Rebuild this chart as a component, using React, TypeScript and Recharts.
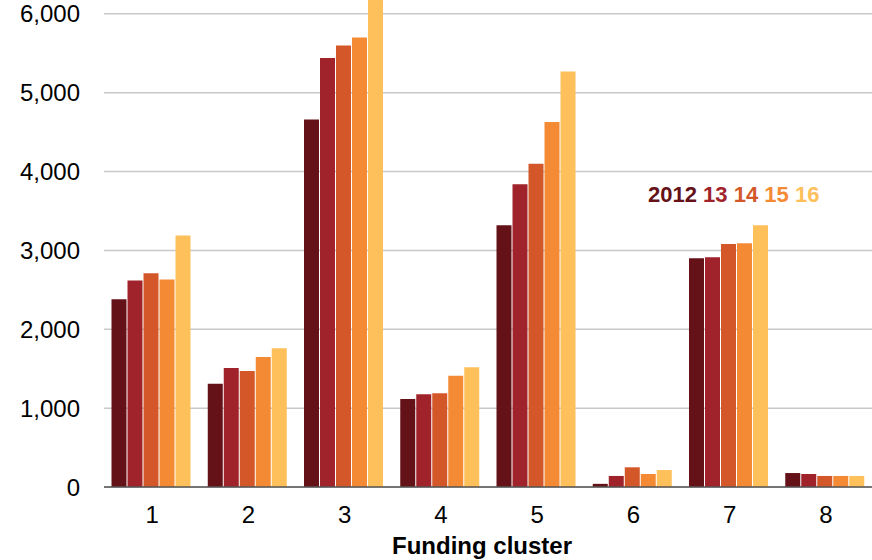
import React from "react";
import { BarChart, Bar, XAxis, YAxis, CartesianGrid } from "recharts";

const clusters = ["1", "2", "3", "4", "5", "6", "7", "8"];
const y2012 = [2380, 1310, 4660, 1115, 3320, 40, 2900, 177];
const y2013 = [2620, 1510, 5440, 1175, 3840, 140, 2915, 165];
const y2014 = [2710, 1470, 5600, 1190, 4100, 250, 3080, 140];
const y2015 = [2630, 1650, 5700, 1410, 4630, 165, 3090, 140];
const y2016 = [3190, 1760, 6300, 1520, 5270, 215, 3320, 140];
const yTicks = [0, 1000, 2000, 3000, 4000, 5000, 6000];

const seriesKeys = ["y2012", "y2013", "y2014", "y2015", "y2016"];
const seriesColors = ["#641118", "#A0222A", "#D4572A", "#F58A35", "#FDC05A"];
const legendLabels = ["2012", "13", "14", "15", "16"];

const data = clusters.map((c, i) => ({
  cluster: c,
  y2012: y2012[i],
  y2013: y2013[i],
  y2014: y2014[i],
  y2015: y2015[i],
  y2016: y2016[i],
}));

const FONT = "'Liberation Sans', Arial, sans-serif";

export default function App() {
  return (
    <div
      style={{
        position: "absolute",
        left: 0,
        top: 0,
        width: 872,
        height: 560,
        overflow: "hidden",
        background: "#fff",
        fontFamily: FONT,
      }}
    >
      <div style={{ position: "absolute", left: 0, top: -100 }}>
        <BarChart
          width={880}
          height={660}
          data={data}
          margin={{ top: 35, right: 6, left: 0, bottom: 0 }}
          barCategoryGap="7.8%"
          barGap={1}
        >
          <CartesianGrid
            horizontal={true}
            vertical={false}
            stroke="#c8c8c8"
            strokeWidth={1.5}
          />
          <XAxis
            dataKey="cluster"
            height={73}
            tickLine={false}
            tickSize={0}
            tickMargin={19}
            axisLine={{ stroke: "#555", strokeWidth: 1.5 }}
            tick={{ fontSize: 24, fill: "#000", fontFamily: FONT }}
            label={{
              value: "Funding cluster",
              position: "insideBottom",
              offset: 6,
              dx: -7,
              style: { fontSize: 24, fontWeight: "bold", fill: "#000", fontFamily: FONT },
            }}
          />
          <YAxis
            width={104}
            domain={[0, 7000]}
            ticks={yTicks}
            allowDataOverflow
            axisLine={false}
            tickLine={false}
            tickSize={0}
            tickMargin={24}
            tickFormatter={(v: number) => v.toLocaleString("en-US")}
            tick={{ fontSize: 24, fill: "#000", fontFamily: FONT }}
          />
          {seriesKeys.map((k, i) => (
            <Bar
              key={k}
              dataKey={k}
              fill={seriesColors[i]}
              isAnimationActive={false}
            />
          ))}
        </BarChart>
      </div>
      <div
        style={{
          position: "absolute",
          left: 648,
          top: 182,
          fontSize: 22,
          fontWeight: "bold",
          fontFamily: FONT,
          whiteSpace: "pre",
        }}
      >
        {legendLabels.map((l, i) => (
          <span key={l} style={{ color: seriesColors[i] }}>
            {l}
            {i < legendLabels.length - 1 ? " " : ""}
          </span>
        ))}
      </div>
    </div>
  );
}
